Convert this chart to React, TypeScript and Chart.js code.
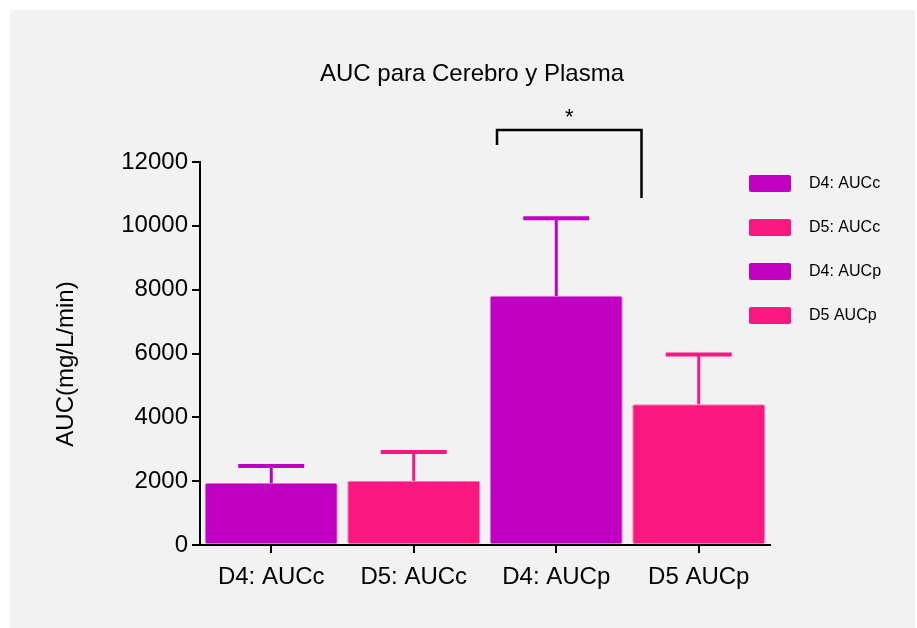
import React, { useEffect, useRef } from "react";
import { Chart, registerables } from "chart.js";

Chart.register(...registerables);

const categories = ["D4: AUCc", "D5: AUCc", "D4: AUCp", "D5 AUCp"];
const means = [1940, 2010, 7800, 4410];
const errors = [535, 905, 2440, 1555];
const barColors = ["#C000C0", "#F81880", "#C000C0", "#F81880"];
const barBorders = ["#D86CD8", "#FB7AB3", "#D86CD8", "#FB7AB3"];
const legendLabels = ["D4: AUCc", "D5: AUCc", "D4: AUCp", "D5 AUCp"];
const yMin = 0;
const yMax = 12000;
const yStep = 2000;
const titleText = "AUC para Cerebro y Plasma";
const yTitleText = "AUC(mg/L/min)";
const sigFrom = 2;
const sigTo = 3;
const sigLabel = "*";
const sigTopValue = 13000;
const sigLeftEnd = 12530;
const sigRightEnd = 10870;

const FONT = "'Liberation Sans', Arial, sans-serif";

const extrasPlugin = {
  id: "extras",
  afterDatasetsDraw(chart: any) {
    const ctx = chart.ctx;
    const x = chart.scales.x;
    const y = chart.scales.y;
    ctx.save();
    means.forEach((m, i) => {
      const cx = x.getPixelForValue(i);
      const top = y.getPixelForValue(m + errors[i]);
      const base = y.getPixelForValue(m);
      ctx.strokeStyle = barColors[i];
      ctx.lineWidth = 3;
      ctx.beginPath();
      ctx.moveTo(cx, base);
      ctx.lineTo(cx, top);
      ctx.stroke();
      ctx.lineWidth = 4;
      ctx.beginPath();
      ctx.moveTo(cx - 33, top);
      ctx.lineTo(cx + 33, top);
      ctx.stroke();
    });
    ctx.restore();
  },
  afterDraw(chart: any) {
    const ctx = chart.ctx;
    const x = chart.scales.x;
    const y = chart.scales.y;
    const area = chart.chartArea;
    ctx.save();
    // title
    ctx.fillStyle = "#000";
    ctx.font = `24px ${FONT}`;
    ctx.textAlign = "center";
    ctx.textBaseline = "middle";
    ctx.fillText(titleText, 472, 74);
    // y title
    ctx.save();
    ctx.translate(66, 364);
    ctx.rotate(-Math.PI / 2);
    ctx.fillText(yTitleText, 0, 0);
    ctx.restore();
    // significance bracket
    const half = (x.getPixelForValue(1) - x.getPixelForValue(0)) / 2;
    const lx = x.getPixelForValue(sigFrom) - half + 12;
    const rx = x.getPixelForValue(sigTo) - half + 14;
    const ty = y.getPixelForValue(sigTopValue);
    ctx.strokeStyle = "#000";
    ctx.lineWidth = 2.5;
    ctx.beginPath();
    ctx.moveTo(lx, y.getPixelForValue(sigLeftEnd));
    ctx.lineTo(lx, ty);
    ctx.lineTo(rx, ty);
    ctx.lineTo(rx, y.getPixelForValue(sigRightEnd));
    ctx.stroke();
    ctx.font = `22px ${FONT}`;
    ctx.fillText(sigLabel, (lx + rx) / 2, ty - 12);
    // legend
    ctx.font = `16px ${FONT}`;
    ctx.textAlign = "left";
    legendLabels.forEach((lab, i) => {
      const ry = 175 + i * 44;
      const rx0 = area.right - 21;
      ctx.fillStyle = barColors[i];
      ctx.beginPath();
      (ctx as any).roundRect(rx0, ry, 42, 17, 2);
      ctx.fill();
      ctx.fillStyle = "#000";
      ctx.fillText(lab, rx0 + 60, ry + 9);
    });
    ctx.restore();
  },
};

export default function App() {
  const ref = useRef<HTMLCanvasElement>(null);
  useEffect(() => {
    if (!ref.current) return;
    const chart = new Chart(ref.current, {
      type: "bar",
      data: {
        labels: categories,
        datasets: [
          {
            data: means,
            backgroundColor: barColors,
            borderColor: barBorders,
            borderWidth: 1,
            borderRadius: 2,
            borderSkipped: false,
            barPercentage: 0.933,
            categoryPercentage: 1,
          },
        ],
      },
      options: {
        animation: false,
        responsive: false,
        devicePixelRatio: 1,
        layout: { padding: { left: 0, right: 147, top: 162, bottom: 0 } },
        plugins: { legend: { display: false }, tooltip: { enabled: false }, title: { display: false } },
        scales: {
          x: {
            type: "category",
            offset: true,
            grid: { display: true, offset: false, drawOnChartArea: false, drawTicks: true, tickLength: 8, color: "#000", lineWidth: 2 },
            border: { display: true, color: "#000", width: 2 },
            ticks: { color: "#000", font: { family: FONT, size: 24 }, padding: 10, maxRotation: 0 },
            afterFit: (s: any) => { s.height = 83; },
          },
          y: {
            min: yMin,
            max: yMax,
            grid: { display: true, drawOnChartArea: false, drawTicks: true, tickLength: 8, color: "#000", lineWidth: 2 },
            border: { display: true, color: "#000", width: 2 },
            ticks: {
              stepSize: yStep,
              color: "#000",
              font: { family: FONT, size: 24 },
              padding: 4,
              callback: (v: any) => String(v),
            },
            afterFit: (s: any) => { s.width = 200; },
          },
        },
      },
      plugins: [extrasPlugin],
    });
    return () => chart.destroy();
  }, []);
  return (
    <div style={{ position: "fixed", left: 0, top: 0, width: 917, height: 628, background: "#fff" }}>
      <div style={{ position: "absolute", left: 10, top: 10, width: 905, height: 618, background: "#f2f2f2" }} />
      <canvas ref={ref} width={917} height={628} style={{ position: "absolute", left: 0, top: 0 }} />
    </div>
  );
}
